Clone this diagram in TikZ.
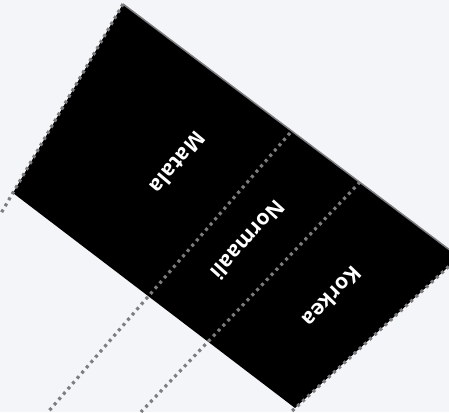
\documentclass[tikz,border=0pt]{standalone}
\usepackage{fontspec}
\setmainfont{Open Sans}
\definecolor{bgc}{RGB}{244,245,249}
\definecolor{dotc}{RGB}{125,125,128}
\begin{document}
\begin{tikzpicture}[x=1pt,y=-1pt,
  dotline/.style={draw=dotc, line width=3.2pt, dash pattern=on 3pt off 4pt},
  band/.style={text=white, font=\bfseries\fontsize{21}{24}\selectfont, inner sep=0pt}]
\fill[bgc] (0,0) rectangle (449,412);
\useasboundingbox (0,0) rectangle (449,412);
\begin{scope}
\clip (0,0) rectangle (449,412);
% corners of the band
\coordinate (tl) at (123,4);
\coordinate (tr) at (459,257);
\coordinate (br) at (295,408);
\coordinate (bl) at (13,193);
\fill[black] (tl) -- (tr) -- (br) -- (bl) -- cycle;
\draw[dotc, line width=1.5pt] (tl) -- (tr);
% divider lines and their extensions
\coordinate (d1a) at (290,133);
\coordinate (d1b) at (48,412);
\coordinate (d2a) at (360,182);
\coordinate (d2b) at (141,412);
\coordinate (le) at (0,215);
\coordinate (re) at (291,412);
\draw[dotline] (tl) -- (le);
\draw[dotline] (d1a) -- (d1b);
\draw[dotline] (d2a) -- (d2b);
\draw[dotline] (tr) -- (re);
\end{scope}
\node[band, rotate=230] (mat) at (178,163) {Matala};
\node[band, rotate=228] (nor) at (248,240) {Normaali};
\node[band, rotate=226] (kor) at (332,297) {Korkea};
\end{tikzpicture}
\end{document}
